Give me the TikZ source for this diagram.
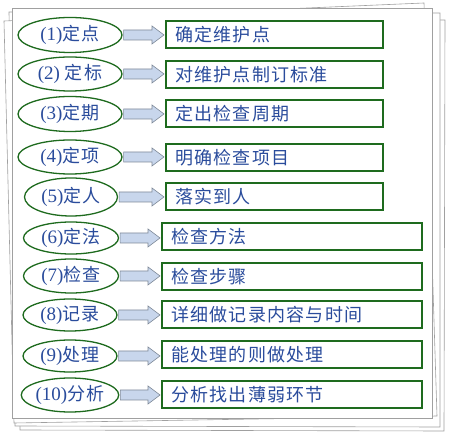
\documentclass[tikz,border=0pt]{standalone}
\usepackage{fontspec}
\setmainfont{Liberation Serif}
\newfontfamily\cjk{Noto Sans CJK SC}[LetterSpace=7]
\usetikzlibrary{shapes.geometric,calc}

\definecolor{frameGreen}{HTML}{1E6B1E}
\definecolor{labelBlue}{HTML}{2A4C9C}
\definecolor{arrowFill}{HTML}{C8D6EC}
\definecolor{arrowLine}{HTML}{7F8A99}
\definecolor{pageLine}{HTML}{A0A0A0}

\tikzset{
  oval/.style={ellipse, draw=frameGreen, line width=1.3pt, fill=white, inner sep=0pt,
    text=labelBlue, font=\fontsize{19}{22}\selectfont},
  task/.style={draw=frameGreen, line width=2pt, fill=white, anchor=west, minimum height=27pt,
    inner xsep=9pt, align=left, text=labelBlue, font=\cjk\fontsize{18}{21}\selectfont},
  flow/.style={fill=arrowFill, draw=arrowLine, line width=0.6pt},
  page/.style={fill=white, draw=pageLine, line width=0.6pt}
}

\begin{document}
\begin{tikzpicture}[x=1pt, y=-1pt]
\useasboundingbox (0,0) rectangle (450,435);

% stacked sheets
\draw[page] (16,16) -- (445,20) -- (444,431) -- (20,430) -- cycle;
\draw[page] (9,12) -- (440,13) -- (440,427) -- (15,426) -- cycle;
\draw[page] (4,21) -- (424,3) -- (437,416) -- (14,423) -- cycle;
\draw[page] (12,8) rectangle (432,418);

% left column
\node[oval, minimum width=104pt, minimum height=35pt] (e1) at (70,35) {(1){\cjk\fontsize{18}{21}\selectfont 定点}};
\node[oval, minimum width=104pt, minimum height=34pt] (e2) at (70,74) {(2) {\cjk\fontsize{18}{21}\selectfont 定标}};
\node[oval, minimum width=104pt, minimum height=35pt] (e3) at (70,114) {(3){\cjk\fontsize{18}{21}\selectfont 定期}};
\node[oval, minimum width=104pt, minimum height=34pt] (e4) at (70,157) {(4){\cjk\fontsize{18}{21}\selectfont 定项}};
\node[oval, minimum width=93pt, minimum height=38pt] (e5) at (71,197) {(5){\cjk\fontsize{18}{21}\selectfont 定人}};
\node[oval, minimum width=95pt, minimum height=32pt] (e6) at (71,238) {(6){\cjk\fontsize{18}{21}\selectfont 定法}};
\node[oval, minimum width=95pt, minimum height=34pt] (e7) at (71,276) {(7){\cjk\fontsize{18}{21}\selectfont 检查}};
\node[oval, minimum width=94pt, minimum height=32pt] (e8) at (70,315) {(8){\cjk\fontsize{18}{21}\selectfont 记录}};
\node[oval, minimum width=94pt, minimum height=32pt] (e9) at (70,356) {(9){\cjk\fontsize{18}{21}\selectfont 处理}};
\node[oval, minimum width=94pt, minimum height=34pt] (e10) at (70,395) {(10){\cjk\fontsize{18}{21}\selectfont 分析}};

% right column
\node[task, text width=199pt] (b1) at (165,35) {确定维护点};
\node[task, text width=199pt] (b2) at (165,75) {对维护点制订标准};
\node[task, text width=199pt] (b3) at (165,113.5) {定出检查周期};
\node[task, text width=199pt] (b4) at (165,158) {明确检查项目};
\node[task, text width=199pt] (b5) at (165,197) {落实到人};
\node[task, text width=242pt] (b6) at (161,237) {检查方法};
\node[task, text width=242pt] (b7) at (161,276.5) {检查步骤};
\node[task, text width=242pt] (b8) at (161,315) {详细做记录内容与时间};
\node[task, text width=242pt] (b9) at (161,355) {能处理的则做处理};
\node[task, text width=242pt] (b10) at (161,394.5) {分析找出薄弱环节};

% block arrows
\foreach \i in {1,...,10}
  \draw[flow] let \p1=(e\i.east), \p2=(b\i.west) in
    (\x1+1pt,\y1+5pt) -- (\x2-13pt,\y1+5pt) -- (\x2-13pt,\y1+9pt) -- (\x2-1pt,\y1)
    -- (\x2-13pt,\y1-9pt) -- (\x2-13pt,\y1-5pt) -- (\x1+1pt,\y1-5pt) -- cycle;

\end{tikzpicture}
\end{document}
